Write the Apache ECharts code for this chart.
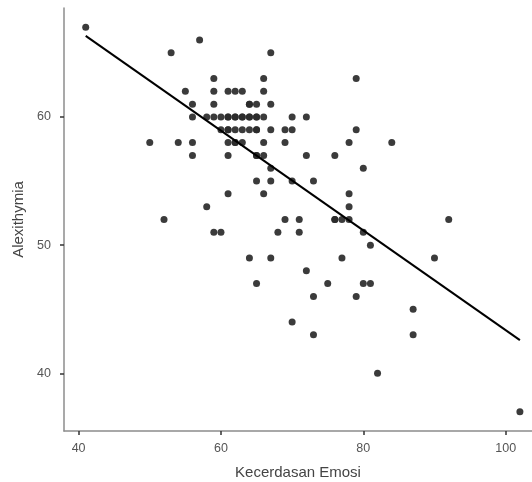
<!DOCTYPE html>
<html><head><meta charset="utf-8">
<script src="https://cdn.jsdelivr.net/npm/echarts@6/dist/echarts.min.js"></script>
<style>html,body{margin:0;padding:0;background:#fff}#c{width:532px;height:482px}</style>
</head><body><div id="c"></div>
<script>
// Kecerdasan Emosi (x) values and Alexithymia (y) values, one pair per respondent
const emosi = [41,57,53,67,59,66,79,55,59,61,62,63,66,56,59,64,64,65,67,
  56,58,59,60,61,61,62,62,63,63,64,64,65,65,66,70,72,
  60,61,61,62,63,64,65,65,67,69,70,79,
  50,54,56,61,62,62,63,66,69,78,84,
  56,61,65,65,66,72,76,
  67,80,65,67,70,73,61,66,78,58,78,
  52,69,71,76,76,77,78,92,59,60,68,71,80,81,
  64,67,77,90,72,65,75,80,81,73,79,87,70,73,87,82,102];
const alexi = [67,66,65,65,63,63,63,62,62,62,62,62,62,61,61,61,61,61,61,
  60,60,60,60,60,60,60,60,60,60,60,60,60,60,60,60,60,
  59,59,59,59,59,59,59,59,59,59,59,59,
  58,58,58,58,58,58,58,58,58,58,58,
  57,57,57,57,57,57,57,
  56,56,55,55,55,55,54,54,54,53,53,
  52,52,52,52,52,52,52,52,51,51,51,51,51,50,
  49,49,49,49,48,47,47,47,47,46,46,45,44,43,43,40,37];
const xTicks = [40,60,80,100];
const yTicks = [40,50,60];
const xTitle = 'Kecerdasan Emosi';
const yTitle = 'Alexithymia';

const pts = emosi.map((v,i)=>[v, alexi[i]]);
// least-squares regression line over the observed x range
const n = pts.length;
const mx = emosi.reduce((a,b)=>a+b,0)/n, my = alexi.reduce((a,b)=>a+b,0)/n;
let sxy=0,sxx=0;
for(let i=0;i<n;i++){sxy+=(emosi[i]-mx)*(alexi[i]-my);sxx+=(emosi[i]-mx)**2;}
const b = sxy/sxx, a = my-b*mx;
const x0 = Math.min(...emosi), x1 = Math.max(...emosi);
const fit = [[x0,a+b*x0],[x1,a+b*x1]];

const chart = echarts.init(document.getElementById('c'));
const axisCol = '#8c8c8c', labCol = '#555';
chart.setOption({
  animation:false,
  grid:{left:64,right:0,top:8,bottom:51,containLabel:false,outerBoundsMode:'none'},
  xAxis:{type:'value',min:37.95,max:103.7,
    name:xTitle,nameLocation:'middle',nameGap:34,
    nameTextStyle:{fontFamily:'Liberation Sans',fontSize:15,color:'#444'},
    axisLine:{show:true,onZero:false,lineStyle:{color:axisCol,width:1.5}},
    axisTick:{show:true,length:4,customValues:xTicks,lineStyle:{color:'#333',width:1.5}},
    axisLabel:{customValues:xTicks,margin:11,fontFamily:'Liberation Sans',fontSize:12.5,color:labCol},
    splitLine:{show:false}},
  yAxis:{type:'value',min:35.5,max:68.5,
    name:yTitle,nameLocation:'middle',nameGap:33,nameRotate:90,
    nameTextStyle:{fontFamily:'Liberation Sans',fontSize:15,color:'#444'},
    axisLine:{show:true,onZero:false,lineStyle:{color:axisCol,width:1.5}},
    axisTick:{show:true,length:4,customValues:yTicks,lineStyle:{color:'#333',width:1.5}},
    axisLabel:{customValues:yTicks,margin:13,fontFamily:'Liberation Sans',fontSize:12.5,color:labCol},
    splitLine:{show:false}},
  series:[
    {type:'scatter',data:pts,symbolSize:7,itemStyle:{color:'#2a2a2a',opacity:0.92},z:2},
    {type:'line',data:fit,symbol:'none',lineStyle:{color:'#000',width:2},z:3}
  ]
});
</script></body></html>
